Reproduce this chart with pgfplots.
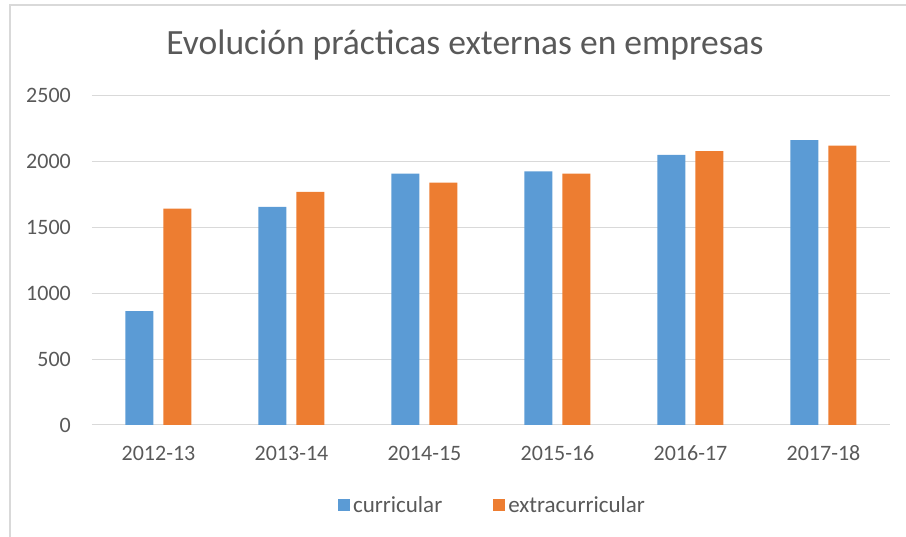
\documentclass[border=0pt]{standalone}
\usepackage{fontspec}
\setmainfont{Carlito}
\usepackage{pgfplots}
\pgfplotsset{compat=1.18}
\definecolor{cCur}{HTML}{5B9BD5}
\definecolor{cExt}{HTML}{ED7D31}
\definecolor{cTxt}{HTML}{595959}
\definecolor{cGrid}{HTML}{D9D9D9}
\pgfplotsset{sq legend/.style={legend image code/.code={\fill[##1] (0pt,-6pt) rectangle (12pt,6pt);}}}
\begin{document}
\begin{tikzpicture}[x=1pt,y=1pt]
% axis box sits at the origin; plot area spans x 92..890, y 95.7..425 of the 906x537 image
\useasboundingbox (-92,-112) rectangle (814,425);
\draw[cGrid, line width=1.5pt] (-82,-112) -- (-82,420) -- (814,420);
\begin{axis}[
  anchor=south west,
  width=798pt, height=329.3pt, scale only axis,
  ybar, bar width=28pt,
  xmin=-0.5, xmax=5.5, ymin=0, ymax=2500,
  xtick={0,1,2,3,4,5},
  xticklabels={2012-13,2013-14,2014-15,2015-16,2016-17,2017-18},
  ytick={0,500,1000,1500,2000,2500},
  /pgf/number format/1000 sep={},
  /pgf/number format/assume math mode=true,
  ymajorgrids, grid style={cGrid, line width=1pt},
  axis line style={draw=none},
  major tick length=0pt,
  tick label style={font=\fontsize{22}{26}\selectfont, text=cTxt},
  yticklabel style={inner sep=0pt, xshift=-21pt},
  xticklabel style={inner sep=0pt, text height=14pt, text depth=0pt, yshift=-21pt},
  legend style={at={(0.5,0)}, anchor=center, xshift=2pt, yshift=-80pt, draw=none, fill=none,
    legend columns=2, font=\fontsize{23}{27}\selectfont, text=cTxt,
    nodes={inner xsep=3pt},
    /tikz/every even column/.append style={column sep=48pt}},
]
\addplot[fill=cCur, draw=none, bar shift=-19pt, sq legend] coordinates {(0,865) (1,1655) (2,1908) (3,1926) (4,2050) (5,2163)};
\addlegendentry{curricular}
\addplot[fill=cExt, draw=none, bar shift=19pt, sq legend] coordinates {(0,1642) (1,1769) (2,1840) (3,1908) (4,2080) (5,2120)};
\addlegendentry{extracurricular}
\end{axis}
\node[anchor=base, text=cTxt, font=\fontsize{35.5}{42}\selectfont] at (373,370) {Evolución prácticas externas en empresas};
\end{tikzpicture}
\end{document}
